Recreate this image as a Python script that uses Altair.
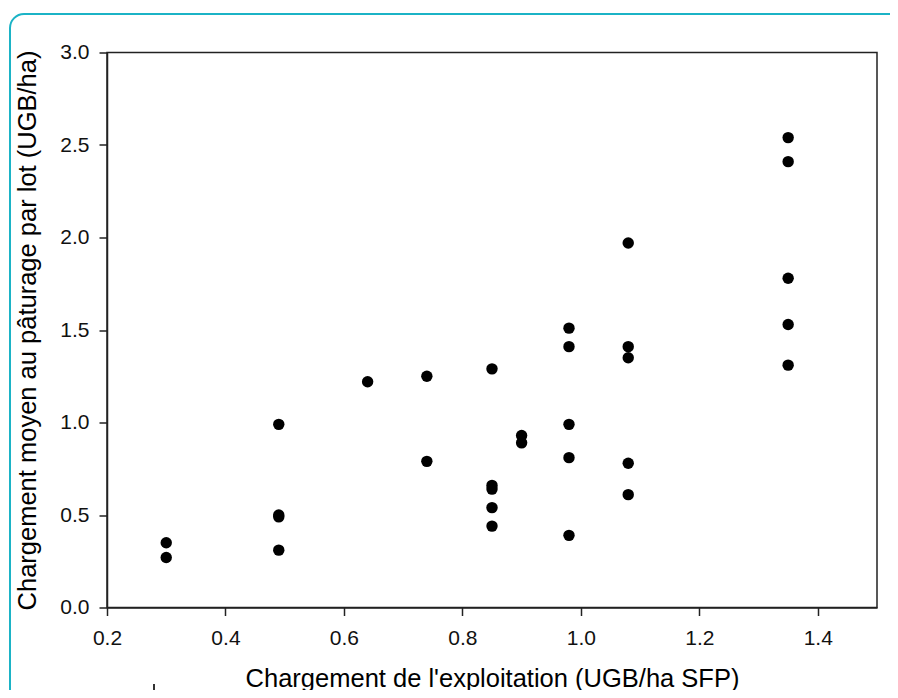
import altair as alt
import pandas as pd

# Chargement de l'exploitation (UGB/ha SFP)
x_vals = [0.30, 0.30,
          0.49, 0.49, 0.49, 0.49,
          0.64,
          0.74, 0.74,
          0.85, 0.85, 0.85, 0.85, 0.85,
          0.90, 0.90,
          0.98, 0.98, 0.98, 0.98, 0.98,
          1.08, 1.08, 1.08, 1.08, 1.08,
          1.35, 1.35, 1.35, 1.35, 1.35]
# Chargement moyen au pâturage par lot (UGB/ha)
y_vals = [0.35, 0.27,
          0.99, 0.50, 0.49, 0.31,
          1.22,
          1.25, 0.79,
          1.29, 0.66, 0.64, 0.54, 0.44,
          0.93, 0.89,
          1.51, 1.41, 0.99, 0.81, 0.39,
          1.97, 1.41, 1.35, 0.78, 0.61,
          2.54, 2.41, 1.78, 1.53, 1.31]

x_ticks = [0.2, 0.4, 0.6, 0.8, 1.0, 1.2, 1.4]
y_ticks = [0.0, 0.5, 1.0, 1.5, 2.0, 2.5, 3.0]

x_title = "Chargement de l'exploitation (UGB/ha SFP)"
y_title = "Chargement moyen au pâturage par lot (UGB/ha)"

df = pd.DataFrame({"x": x_vals, "y": y_vals})

W, H = 770, 555
FONT = "Liberation Sans"

points = alt.Chart(df).mark_circle(size=130, color="#000000", opacity=1).encode(
    x=alt.X("x:Q",
            scale=alt.Scale(domain=[0.2, 1.5], nice=False, zero=False),
            axis=alt.Axis(values=x_ticks, format=".1f", title=x_title,
                          labelPadding=12, labelFlush=False,
                          titleX=W / 2, titleY=78.5,
                          titleAlign="center", titleBaseline="alphabetic")),
    y=alt.Y("y:Q",
            scale=alt.Scale(domain=[0, 3.0], nice=False),
            axis=alt.Axis(values=y_ticks, format=".1f", title=y_title,
                          labelPadding=10, labelFlush=False,
                          titleX=-72, titleY=H / 2,
                          titleAngle=270, titleAlign="center",
                          titleBaseline="alphabetic")),
)

border = alt.Chart(alt.Data(values=[{"a": 1}])).mark_rect(
    filled=False, stroke="#1bb3c6", strokeWidth=2, cornerRadius=14
).encode(
    x=alt.value(-97), x2=alt.value(800),
    y=alt.value(-38.5), y2=alt.value(660),
)

stray = alt.Chart(alt.Data(values=[{"a": 1}])).mark_rule(
    color="#333333", strokeWidth=2
).encode(
    x=alt.value(47), y=alt.value(631.5), y2=alt.value(640),
)

chart = alt.layer(border, stray, points).properties(
    width=W, height=H,
    autosize=alt.AutoSizeParams(type="none"),
    padding={"left": 99, "top": 44.5, "right": 13, "bottom": 82.5},
    background="#ffffff",
).configure_view(
    stroke="#222222", strokeWidth=1.5
).configure_axis(
    grid=False,
    domainColor="#222222", domainWidth=1.5,
    tickColor="#222222", tickWidth=1.5, tickSize=8,
    labelFont=FONT, labelFontSize=21, labelColor="#111111",
    titleFont=FONT, titleFontSize=25.5, titleFontWeight="normal",
    titleColor="#000000",
)

chart.save("out.html", embed_options={"renderer": "svg", "actions": False})
